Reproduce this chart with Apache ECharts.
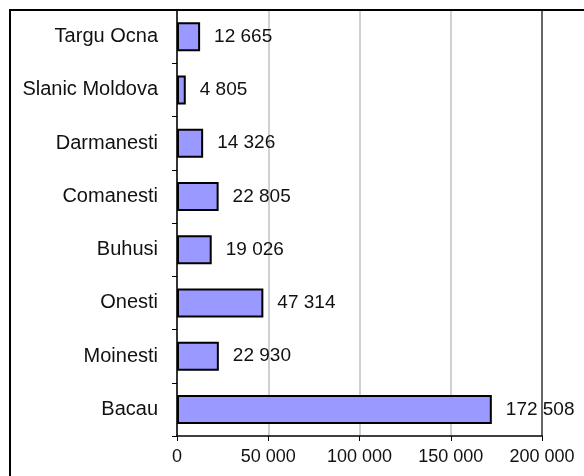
<!DOCTYPE html>
<html>
<head>
<meta charset="utf-8">
<script src="https://cdn.jsdelivr.net/npm/echarts@6/dist/echarts.min.js"></script>
<style>
  html, body { margin: 0; padding: 0; background: #fff; }
  #js-bar { width: 584px; height: 476px; }
</style>
</head>
<body>
<div id="js-bar"></div>
<script>
/* data, bottom to top */
var towns = ['Bacau', 'Moinesti', 'Onesti', 'Buhusi', 'Comanesti', 'Darmanesti', 'Slanic Moldova', 'Targu Ocna'];
var population = [172508, 22930, 47314, 19026, 22805, 14326, 4805, 12665];
var xTicks = [0, 50000, 100000, 150000, 200000];

function spaced(v) {
    return String(v).replace(/\B(?=(\d{3})+(?!\d))/g, ' ');
}

var barChart = echarts.init(document.getElementById('js-bar'));
var barOption = {
    animation: false,
    textStyle: { fontFamily: '"Liberation Sans", Arial, sans-serif' },
    graphic: [{
        type: 'rect',
        shape: { x: 10, y: 10, width: 700, height: 700 },
        style: { fill: 'none', stroke: '#000', lineWidth: 2 },
        z: 10
    }],
    grid: {
        left: 177,
        right: 42,
        top: 10,
        bottom: 40
    },
    xAxis: {
        type: 'value',
        min: xTicks[0],
        max: xTicks[xTicks.length - 1],
        interval: 50000,
        axisLine: { show: true, lineStyle: { color: '#000', width: 1.5 } },
        axisTick: { show: true, length: 5, lineStyle: { color: '#000' } },
        axisLabel: {
            color: '#111',
            fontSize: 18,
            margin: 12,
            formatter: function (v) { return spaced(v); }
        },
        splitLine: {
            show: true,
            lineStyle: { color: ['#d0d0d0', '#d0d0d0', '#d0d0d0', '#d0d0d0', '#666'], width: 2 }
        }
    },
    yAxis: {
        type: 'category',
        data: towns,
        axisLine: { show: true, lineStyle: { color: '#000', width: 1.5 } },
        axisTick: { show: true, length: 5, lineStyle: { color: '#000' } },
        axisLabel: {
            color: '#111',
            fontSize: 20,
            margin: 19
        }
    },
    series: [{
        type: 'bar',
        data: population,
        barWidth: 29,
        itemStyle: {
            color: '#9999FF',
            borderColor: '#000',
            borderWidth: 2
        },
        label: {
            show: true,
            position: 'right',
            distance: 14,
            color: '#111',
            fontSize: 19,
            formatter: function (p) { return spaced(p.value); }
        }
    }]
};
barChart.setOption(barOption);
</script>
</body>
</html>
